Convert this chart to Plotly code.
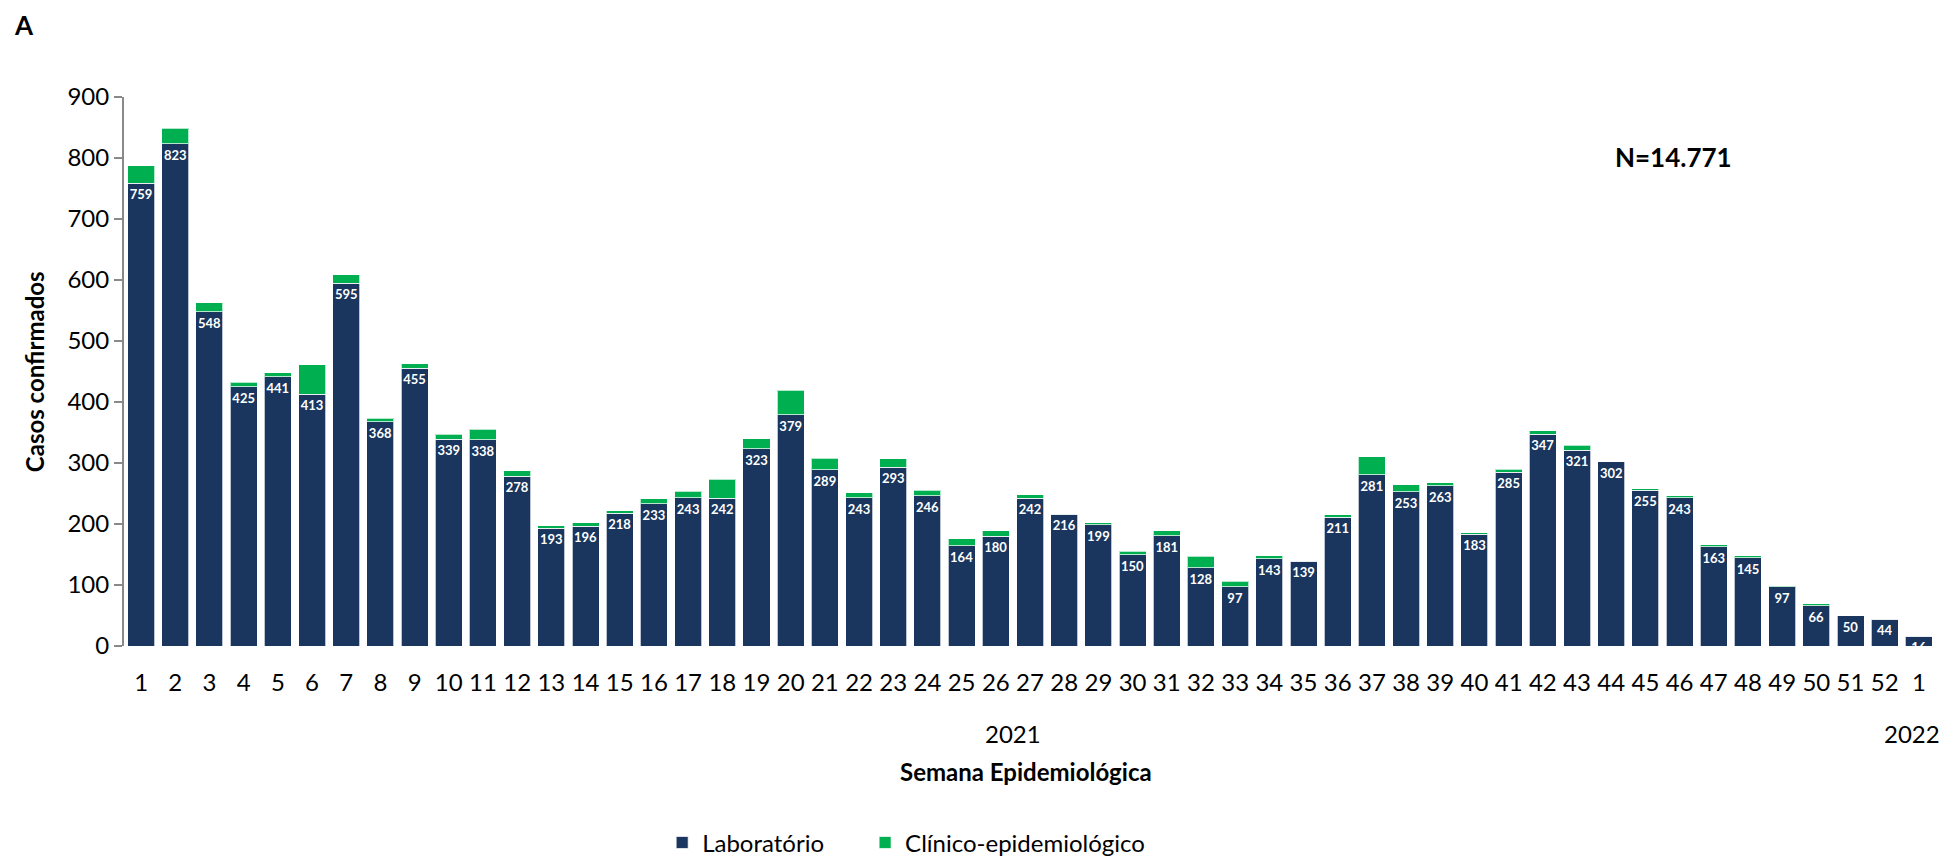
import plotly.graph_objects as go

# Epidemiological weeks: 1-52 of 2021, then week 1 of 2022
week_labels = [str(w) for w in range(1, 53)] + ["1"]

# Cases confirmed by laboratory
laboratorio = [
    759, 823, 548, 425, 441, 413, 595, 368, 455, 339,
    338, 278, 193, 196, 218, 233, 243, 242, 323, 379,
    289, 243, 293, 246, 164, 180, 242, 216, 199, 150,
    181, 128, 97, 143, 139, 211, 281, 253, 263, 183,
    285, 347, 321, 302, 255, 243, 163, 145, 97, 66,
    50, 44, 16,
]

# Cases confirmed by clinical-epidemiological criteria
clinico = [
    28, 26, 15, 7, 7, 48, 14, 5, 8, 8,
    17, 9, 4, 6, 4, 8, 11, 31, 17, 40,
    19, 8, 14, 9, 12, 9, 6, 1, 3, 5,
    8, 19, 9, 5, 0, 4, 29, 11, 5, 3,
    5, 6, 8, 0, 3, 3, 3, 3, 1, 3,
    0, 0, 0,
]

year_labels = ["2021", "2022"]
total_label = "N=14.771"

NAVY = "#1a365e"
GREEN = "#00b050"
FONT = "Lato"

x = list(range(len(week_labels)))

fig = go.Figure()
fig.add_trace(go.Bar(
    x=x, y=laboratorio, name="Laboratório", legend="legend",
    marker=dict(color=NAVY, line=dict(color="rgba(255,255,255,0.7)", width=1)),
    text=[str(v) for v in laboratorio],
    textposition="inside", insidetextanchor="end", textangle=0,
    constraintext="none",
    textfont=dict(family=FONT, size=13, color="white", weight="bold"),
))
fig.add_trace(go.Bar(
    x=x, y=clinico, name="Clínico-epidemiológico", legend="legend2",
    marker=dict(color=GREEN, line=dict(color="rgba(255,255,255,0.7)", width=1)),
))

legend_common = dict(
    orientation="h", xanchor="left", y=-0.3586, yanchor="middle",
    font=dict(family=FONT, size=24, color="black"),
    bgcolor="rgba(0,0,0,0)", borderwidth=0,
)

fig.update_layout(
    barmode="stack",
    bargap=0.21,
    width=1944, height=856,
    margin=dict(l=124, r=8, t=97, b=210, autoexpand=False),
    paper_bgcolor="white", plot_bgcolor="white",
    font=dict(family=FONT, size=24, color="black"),
    showlegend=True,
    legend=dict(x=0.297, **legend_common),
    legend2=dict(x=0.409, **legend_common),
    xaxis=dict(
        range=[-0.5, len(week_labels) - 0.5],
        tickmode="array", tickvals=x, ticktext=week_labels,
        showline=False, showgrid=False, zeroline=False, ticks="",
        ticklabelstandoff=20,
        tickfont=dict(family=FONT, size=24, color="black"),
        fixedrange=True,
    ),
    yaxis=dict(
        range=[0, 900], dtick=100,
        showline=True, linecolor="#898989", linewidth=2,
        ticks="outside", ticklen=8, tickcolor="#898989", tickwidth=2,
        showgrid=False, zeroline=False,
        tickfont=dict(family=FONT, size=24, color="black"),
        fixedrange=True,
    ),
)

annotations = [
    dict(text="Casos confirmados", xref="paper", yref="paper",
         x=-0.0493, y=0.5, textangle=-90, showarrow=False,
         xanchor="center", yanchor="middle",
         font=dict(family=FONT, size=24, color="black", weight="bold")),
    dict(text=year_labels[0], xref="x", yref="paper", x=25.5, y=-0.1585,
         showarrow=False, xanchor="center", yanchor="middle",
         font=dict(family=FONT, size=24, color="black")),
    dict(text=year_labels[1], xref="x", yref="paper", x=51.8, y=-0.1585,
         showarrow=False, xanchor="center", yanchor="middle",
         font=dict(family=FONT, size=24, color="black")),
    dict(text="Semana Epidemiológica", xref="paper", yref="paper",
         x=0.498, y=-0.229, showarrow=False, xanchor="center", yanchor="middle",
         font=dict(family=FONT, size=24, color="black", weight="bold")),
    dict(text="A", xref="paper", yref="paper", x=-0.0552, y=1.132,
         showarrow=False, xanchor="center", yanchor="middle",
         font=dict(family=FONT, size=26, color="black", weight="bold")),
    dict(text=total_label, xref="paper", yref="paper", x=0.8549, y=0.8916,
         showarrow=False, xanchor="center", yanchor="middle",
         font=dict(family=FONT, size=26, color="black", weight="bold")),
]
fig.update_layout(annotations=annotations)

fig.write_html("out.html")
